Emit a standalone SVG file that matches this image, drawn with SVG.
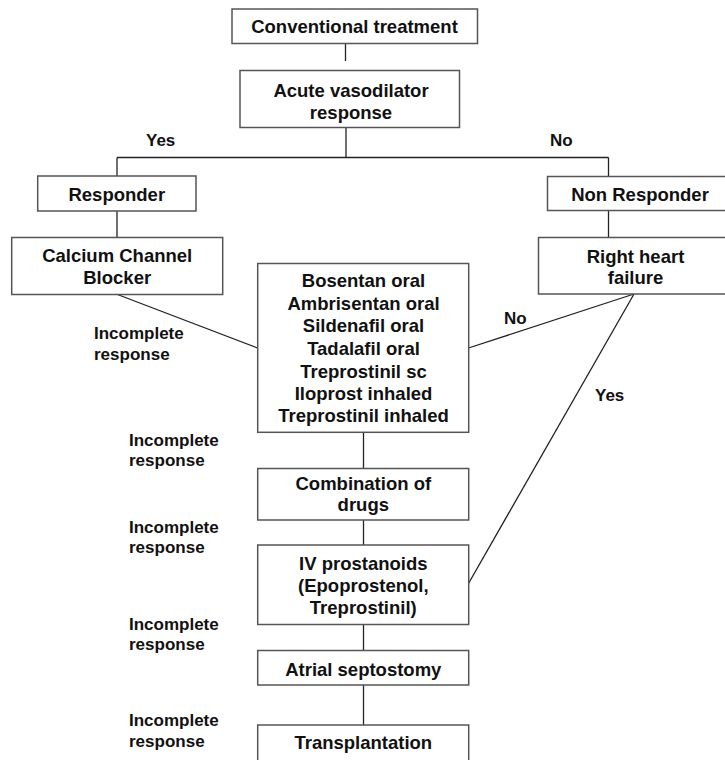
<svg xmlns="http://www.w3.org/2000/svg" width="725" height="760" viewBox="0 0 725 760">
<style>
  .box rect { fill: #ffffff; stroke: #555555; stroke-width: 1.5; }
  .box text { font-family: "Liberation Sans", Arial, sans-serif; font-weight: bold; font-size: 18.5px; fill: #111111; text-anchor: middle; }
  .lbl { font-family: "Liberation Sans", Arial, sans-serif; font-weight: bold; font-size: 17px; fill: #111111; }
  #connectors line { stroke: #222222; stroke-width: 1.3; fill: none; }
</style>
<rect x="0" y="0" width="725" height="760" fill="#ffffff"/>

<g id="connectors">
  <line x1="345.5" y1="43" x2="345.5" y2="61"/>
  <line x1="346" y1="127.5" x2="346" y2="157.5"/>
  <line x1="117" y1="157.5" x2="608.5" y2="157.5"/>
  <line x1="117" y1="157.5" x2="117" y2="176"/>
  <line x1="608.5" y1="157.5" x2="608.5" y2="176.5"/>
  <line x1="117" y1="211" x2="117" y2="237.5"/>
  <line x1="608.5" y1="210.5" x2="608.5" y2="237.5"/>
  <line x1="117.5" y1="294.5" x2="257.5" y2="348"/>
  <line x1="468.5" y1="348" x2="634" y2="294"/>
  <line x1="634" y1="294" x2="468.5" y2="583.5"/>
  <line x1="363.5" y1="432" x2="363.5" y2="468.5"/>
  <line x1="363.5" y1="520" x2="363.5" y2="545"/>
  <line x1="363.5" y1="624.5" x2="363.5" y2="650.5"/>
  <line x1="363.5" y1="685" x2="363.5" y2="725"/>
</g>

<g id="labels">
  <text class="lbl" x="146" y="146">Yes</text>
  <text class="lbl" x="550" y="146">No</text>
  <text class="lbl" x="504" y="323.5">No</text>
  <text class="lbl" x="595" y="400.5">Yes</text>
  <text class="lbl" x="94" y="339">Incomplete</text>
  <text class="lbl" x="94" y="359.5">response</text>
  <text class="lbl" x="129" y="445.5">Incomplete</text>
  <text class="lbl" x="129" y="466">response</text>
  <text class="lbl" x="129" y="532.5">Incomplete</text>
  <text class="lbl" x="129" y="553">response</text>
  <text class="lbl" x="129" y="629.5">Incomplete</text>
  <text class="lbl" x="129" y="650">response</text>
  <text class="lbl" x="129" y="726">Incomplete</text>
  <text class="lbl" x="129" y="746.5">response</text>
</g>

<g id="conventional" class="box">
  <rect x="232" y="9" width="245.5" height="34.5"/>
  <text x="354.5" y="33.3">Conventional treatment</text>
</g>
<g id="acute" class="box">
  <rect x="240" y="70.5" width="219.5" height="57"/>
  <text x="351" y="96.7">Acute vasodilator</text>
  <text x="351" y="118.5">response</text>
</g>
<g id="responder" class="box">
  <rect x="37.7" y="176" width="158.3" height="35"/>
  <text x="116.8" y="200.7">Responder</text>
</g>
<g id="nonresponder" class="box">
  <rect x="547.5" y="176.5" width="185" height="34"/>
  <text x="640" y="200.7">Non Responder</text>
</g>
<g id="ccb" class="box">
  <rect x="11.7" y="237.5" width="211" height="57"/>
  <text x="117.2" y="261.7">Calcium Channel</text>
  <text x="117.2" y="283.5">Blocker</text>
</g>
<g id="rhf" class="box">
  <rect x="538.5" y="237.5" width="194" height="56.5"/>
  <text x="635.5" y="263.3">Right heart</text>
  <text x="635.5" y="284">failure</text>
</g>
<g id="drugs" class="box">
  <rect x="257.7" y="263.5" width="211" height="168.8"/>
  <text x="363.5" y="287.3">Bosentan oral</text>
  <text x="363.5" y="309.5">Ambrisentan oral</text>
  <text x="363.5" y="332.3">Sildenafil oral</text>
  <text x="363.5" y="355">Tadalafil oral</text>
  <text x="363.5" y="377.7">Treprostinil sc</text>
  <text x="363.5" y="400">Iloprost inhaled</text>
  <text x="363.5" y="421.7">Treprostinil inhaled</text>
</g>
<g id="combination" class="box">
  <rect x="257.7" y="468.5" width="211" height="51.5"/>
  <text x="363.3" y="490">Combination of</text>
  <text x="363.3" y="511">drugs</text>
</g>
<g id="ivprostanoids" class="box">
  <rect x="257.7" y="545" width="211" height="79.5"/>
  <text x="363.3" y="570">IV prostanoids</text>
  <text x="363.3" y="591.7">(Epoprostenol,</text>
  <text x="363.3" y="614">Treprostinil)</text>
</g>
<g id="septostomy" class="box">
  <rect x="257.7" y="650.5" width="211" height="34.5"/>
  <text x="363.3" y="675.7">Atrial septostomy</text>
</g>
<g id="transplantation" class="box">
  <rect x="257.7" y="725" width="211" height="40"/>
  <text x="363.3" y="749.3">Transplantation</text>
</g>
</svg>
